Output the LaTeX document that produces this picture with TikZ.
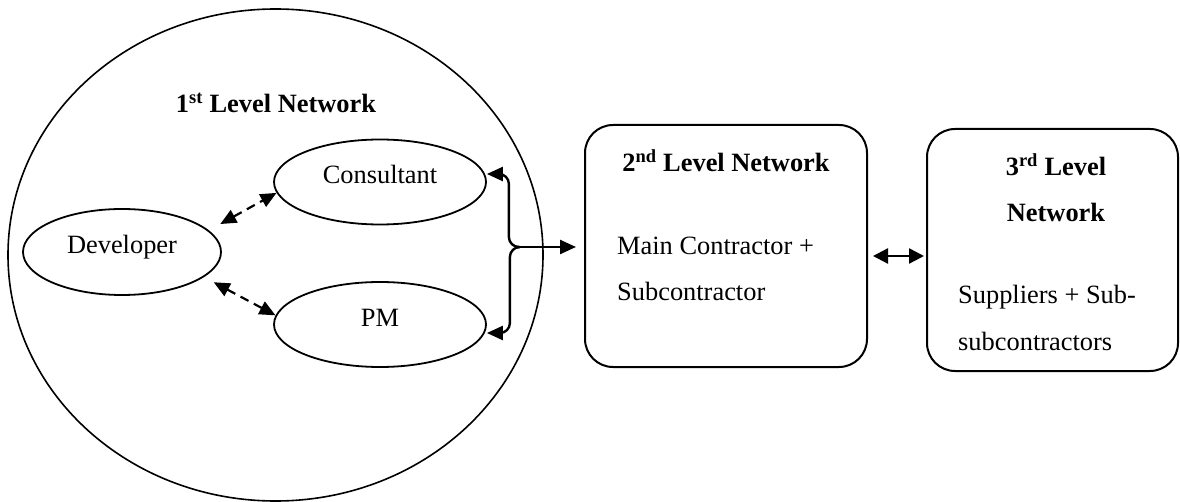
\documentclass[tikz,border=0pt]{standalone}
\usepackage{fontspec}
\setmainfont{Liberation Serif}
\usetikzlibrary{shapes.geometric,arrows.meta}
\begin{document}
\begin{tikzpicture}[x=1pt,y=-1pt]
\tikzset{
  txt/.style={font=\fontsize{26.4}{30}\selectfont},
  outerring/.style={draw, ellipse, line width=1.6pt, inner sep=0pt,
    minimum width=535pt, minimum height=492pt},
  party/.style={draw, ellipse, line width=1.8pt, inner sep=0pt, txt,
    text height=18.5pt, text depth=14.5pt},
  levelbox/.style={draw, rectangle, rounded corners=28pt, line width=2pt,
    inner sep=0pt, minimum height=242pt},
  heading/.style={anchor=base, inner sep=0pt,
    font=\fontsize{26.4}{30}\selectfont\bfseries},
  bodytext/.style={anchor=base west, inner sep=0pt, txt},
  dashlink/.style={{Triangle[length=16pt,width=14pt]}-{Triangle[length=16pt,width=14pt]},
    line width=2.2pt, dash pattern=on 9pt off 6pt},
  link/.style={-{Triangle[length=16pt,width=14pt]}, line width=2.4pt},
  duplex/.style={{Triangle[length=15pt,width=15pt]}-{Triangle[length=15pt,width=15pt]},
    line width=2.4pt},
}
\useasboundingbox (0,0) rectangle (1180,502);

% first-level network: the big ring with its three parties
\node[outerring] (net1) at (275.5,255) {};
\node[heading] (t1) at (276,113) {1\textsuperscript{st} Level Network};
\node[party, minimum width=198pt, minimum height=86pt] (dev) at (122,252) {Developer};
\node[party, minimum width=212pt, minimum height=85pt] (con) at (380,182) {Consultant};
\node[party, minimum width=212pt, minimum height=85pt] (pm) at (380,324.5) {PM};

% second-level network
\node[levelbox, minimum width=282pt] (lvl2) at (726,246) {};
\node[heading] (t2) at (726,172) {2\textsuperscript{nd} Level Network};
\node[bodytext] (m2a) at (617,255) {Main Contractor +};
\node[bodytext] (m2b) at (617,301) {Subcontractor};

% third-level network
\node[levelbox, minimum width=251pt] (lvl3) at (1052.5,250) {};
\node[heading] (t3a) at (1056,176) {3\textsuperscript{rd} Level};
\node[heading] (t3b) at (1056,222) {Network};
\node[bodytext] (m3a) at (958,304) {Suppliers + Sub-};
\node[bodytext] (m3b) at (958,350) {subcontractors};

% links inside the first-level network
\draw[dashlink, shorten <=13pt] (dev.14.5) -- (con.186);
\draw[dashlink, shorten <=11pt] (dev.-17) -- (pm.175);

% brace joining consultant and PM to the second level
\coordinate (brace) at (520,247);
\draw[link, rounded corners=10pt] (brace) -| ([xshift=22pt,yshift=8pt]con.east)
  -- ([yshift=8pt]con.east);
\draw[link, rounded corners=10pt] (brace) -| ([xshift=23pt,yshift=-8.5pt]pm.east)
  -- ([yshift=-8.5pt]pm.east);
\draw[link, shorten >=8pt] (brace) -- (brace -| lvl2.west);

% second <-> third level
\coordinate (d1) at ([yshift=-10pt]lvl2.east);
\draw[duplex, shorten <=5pt, shorten >=2pt] (d1) -- (d1 -| lvl3.west);
\end{tikzpicture}
\end{document}
